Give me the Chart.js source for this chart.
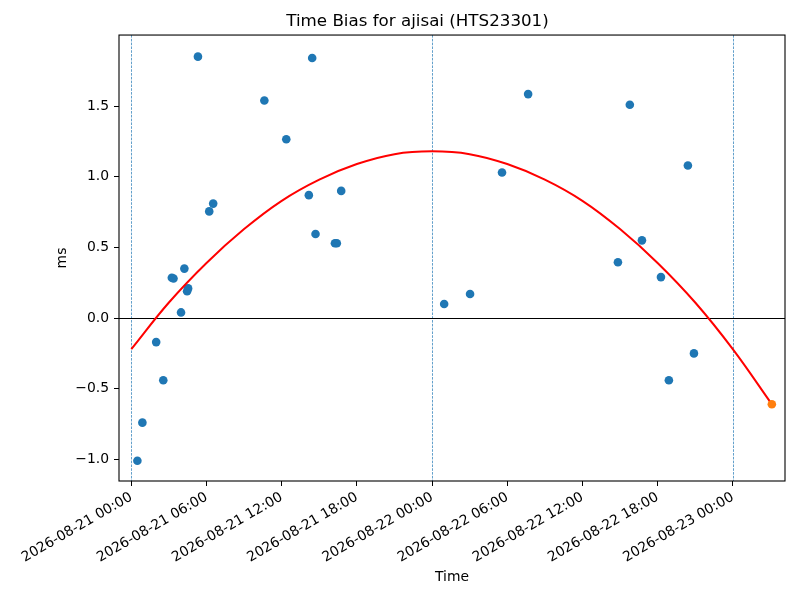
<!DOCTYPE html>
<html>
<head>
<meta charset="utf-8">
<script src="https://cdn.jsdelivr.net/npm/chart.js@4.4.1/dist/chart.umd.min.js"></script>
<style>
  html, body { margin: 0; padding: 0; background: #fff; }
  #wrap { width: 800px; height: 600px; }
</style>
</head>
<body>
<div id="wrap"><canvas id="c" width="800" height="600"></canvas></div>
<script>
// ---------------- data ----------------
const chartTitle = 'Time Bias for ajisai (HTS23301)';
const xTitle = 'Time';
const yTitle = 'ms';
const baseTime = '2026-08-21 00:00';

const obsTimes = [
  '2026-08-21 00:29', '2026-08-21 00:53', '2026-08-21 01:59', '2026-08-21 02:33',
  '2026-08-21 03:14', '2026-08-21 03:22', '2026-08-21 03:58', '2026-08-21 04:14',
  '2026-08-21 04:27', '2026-08-21 04:32', '2026-08-21 05:19', '2026-08-21 06:13',
  '2026-08-21 06:32', '2026-08-21 10:37', '2026-08-21 12:22', '2026-08-21 14:10',
  '2026-08-21 14:26', '2026-08-21 14:42', '2026-08-21 16:15', '2026-08-21 16:24',
  '2026-08-21 16:45', '2026-08-22 00:58', '2026-08-22 03:02', '2026-08-22 05:35',
  '2026-08-22 07:40', '2026-08-22 14:50', '2026-08-22 15:47', '2026-08-22 16:45',
  '2026-08-22 18:16', '2026-08-22 18:54', '2026-08-22 20:25', '2026-08-22 20:54'
];
const obsBias = [
  -1.01, -0.74, -0.17, -0.44,
  0.285, 0.28, 0.04, 0.35,
  0.19, 0.21, 1.85, 0.755,
  0.81, 1.54, 1.265, 0.87,
  1.84, 0.595, 0.53, 0.53,
  0.90, 0.10, 0.17, 1.03,
  1.585, 0.395, 1.51, 0.55,
  0.29, -0.44, 1.08, -0.25
];

const predTimes = ['2026-08-23 03:07'];
const predBias = [-0.61];

const fitTimes = [
  '2026-08-21 00:00', '2026-08-21 03:00', '2026-08-21 06:00', '2026-08-21 09:00',
  '2026-08-21 12:00', '2026-08-21 15:00', '2026-08-21 18:00', '2026-08-21 21:00',
  '2026-08-22 00:00', '2026-08-22 03:00', '2026-08-22 06:00', '2026-08-22 09:00',
  '2026-08-22 12:00', '2026-08-22 15:00', '2026-08-22 18:00', '2026-08-22 21:00',
  '2026-08-23 00:00', '2026-08-23 03:07'
];
const fitBias = [
  -0.22, 0.11, 0.39, 0.63,
  0.83, 0.98, 1.09, 1.16,
  1.18, 1.16, 1.09, 0.98,
  0.83, 0.63, 0.39, 0.11,
  -0.22, -0.61
];

const dayLineTimes = ['2026-08-21 00:00', '2026-08-22 00:00', '2026-08-23 00:00'];
const zeroLineValue = 0;

const xTickTimes = [
  '2026-08-21 00:00', '2026-08-21 06:00', '2026-08-21 12:00', '2026-08-21 18:00',
  '2026-08-22 00:00', '2026-08-22 06:00', '2026-08-22 12:00', '2026-08-22 18:00',
  '2026-08-23 00:00'
];
const xTickLabels = xTickTimes.slice();
const yTickValues = [-1.0, -0.5, 0.0, 0.5, 1.0, 1.5];
const yTickLabels = ['\u22121.0', '\u22120.5', '0.0', '0.5', '1.0', '1.5'];

const xRange = ['2026-08-20 23:01', '2026-08-23 04:10'];
const yRange = [-1.153, 2.003];

// ---------------- helpers ----------------
function toHours(s) {
  const [d, t] = s.split(' ');
  const [Y, M, D] = d.split('-').map(Number);
  const [h, m] = t.split(':').map(Number);
  const b = baseTime.split(/[- :]/).map(Number);
  const ms = Date.UTC(Y, M - 1, D, h, m) - Date.UTC(b[0], b[1] - 1, b[2], b[3], b[4]);
  return ms / 3600000;
}
const toPts = (ts, vs) => ts.map((t, i) => ({ x: toHours(t), y: vs[i] }));

const FONT = 'DejaVu Sans';
const BLUE = '#1f77b4';
const ORANGE = '#ff7f0e';

const refLines = {
  id: 'refLines',
  beforeDatasetsDraw(chart) {
    const { ctx, chartArea: a, scales: { x, y } } = chart;
    ctx.save();
    ctx.beginPath();
    ctx.rect(a.left, a.top, a.right - a.left, a.bottom - a.top);
    ctx.clip();
    ctx.strokeStyle = BLUE;
    ctx.lineWidth = 0.7;
    ctx.setLineDash([2.6, 1.2]);
    dayLineTimes.forEach(t => {
      const px = Math.round(x.getPixelForValue(toHours(t))) + 0.5;
      ctx.beginPath(); ctx.moveTo(px, a.top); ctx.lineTo(px, a.bottom); ctx.stroke();
    });
    ctx.setLineDash([]);
    ctx.strokeStyle = '#000';
    ctx.lineWidth = 1;
    const py = Math.round(y.getPixelForValue(zeroLineValue)) + 0.5;
    ctx.beginPath(); ctx.moveTo(a.left, py); ctx.lineTo(a.right, py); ctx.stroke();
    ctx.restore();
  },
  afterDraw(chart) {
    const { ctx, chartArea: a } = chart;
    ctx.save();
    ctx.strokeStyle = '#000';
    ctx.lineWidth = 1.1;
    ctx.strokeRect(a.left, a.top, a.right - a.left, a.bottom - a.top);
    ctx.restore();
  }
};

const xTickH = xTickTimes.map(toHours);

new Chart(document.getElementById('c'), {
  type: 'scatter',
  data: {
    datasets: [
      {
        label: 'fit',
        type: 'line',
        data: toPts(fitTimes, fitBias),
        borderColor: 'red',
        borderWidth: 2,
        pointRadius: 0,
        tension: 0.4,
        fill: false,
        order: 1
      },
      {
        label: 'observed',
        data: toPts(obsTimes, obsBias),
        backgroundColor: BLUE,
        borderWidth: 0,
        pointRadius: 4.3,
        pointHoverRadius: 4.3,
        order: 2
      },
      {
        label: 'predicted',
        data: toPts(predTimes, predBias),
        backgroundColor: ORANGE,
        borderWidth: 0,
        pointRadius: 4.3,
        pointHoverRadius: 4.3,
        order: 0
      }
    ]
  },
  options: {
    responsive: false,
    animation: false,
    devicePixelRatio: 1,
    layout: { padding: { left: 50, right: 15, top: 0, bottom: 10 } },
    plugins: {
      legend: { display: false },
      tooltip: { enabled: false },
      title: {
        display: true,
        text: chartTitle,
        color: '#000',
        font: { family: FONT, size: 16.7, weight: 'normal' },
        padding: { top: 12, bottom: 3 }
      }
    },
    scales: {
      x: {
        type: 'linear',
        min: toHours(xRange[0]),
        max: toHours(xRange[1]),
        border: { display: false },
        grid: { drawOnChartArea: false, drawTicks: true, tickLength: 5, tickColor: '#000', tickWidth: 1 },
        afterBuildTicks: s => { s.ticks = xTickH.map(v => ({ value: v })); },
        afterFit: s => { s.height = 109; },
        ticks: {
          autoSkip: false,
          minRotation: 30,
          maxRotation: 30,
          padding: 3,
          color: '#000',
          font: { family: FONT, size: 13.9 },
          callback: (v) => {
            const i = xTickH.findIndex(h => Math.abs(h - v) < 1e-6);
            return i >= 0 ? xTickLabels[i] : '';
          }
        },
        title: {
          display: true,
          text: xTitle,
          color: '#000',
          font: { family: FONT, size: 13.9 },
          padding: { top: 4, bottom: 4 }
        }
      },
      y: {
        type: 'linear',
        min: yRange[0],
        max: yRange[1],
        border: { display: false },
        grid: { drawOnChartArea: false, drawTicks: true, tickLength: 5, tickColor: '#000', tickWidth: 1 },
        afterBuildTicks: s => { s.ticks = yTickValues.map(v => ({ value: v })); },
        afterFit: s => { s.width = 69; },
        ticks: {
          padding: 5,
          color: '#000',
          font: { family: FONT, size: 13.9 },
          callback: (v) => {
            const i = yTickValues.findIndex(t => Math.abs(t - v) < 1e-6);
            return i >= 0 ? yTickLabels[i] : '';
          }
        },
        title: {
          display: true,
          text: yTitle,
          color: '#000',
          font: { family: FONT, size: 13.9 },
          padding: { top: 4, bottom: 4 }
        }
      }
    }
  },
  plugins: [refLines]
});
</script>
</body>
</html>
